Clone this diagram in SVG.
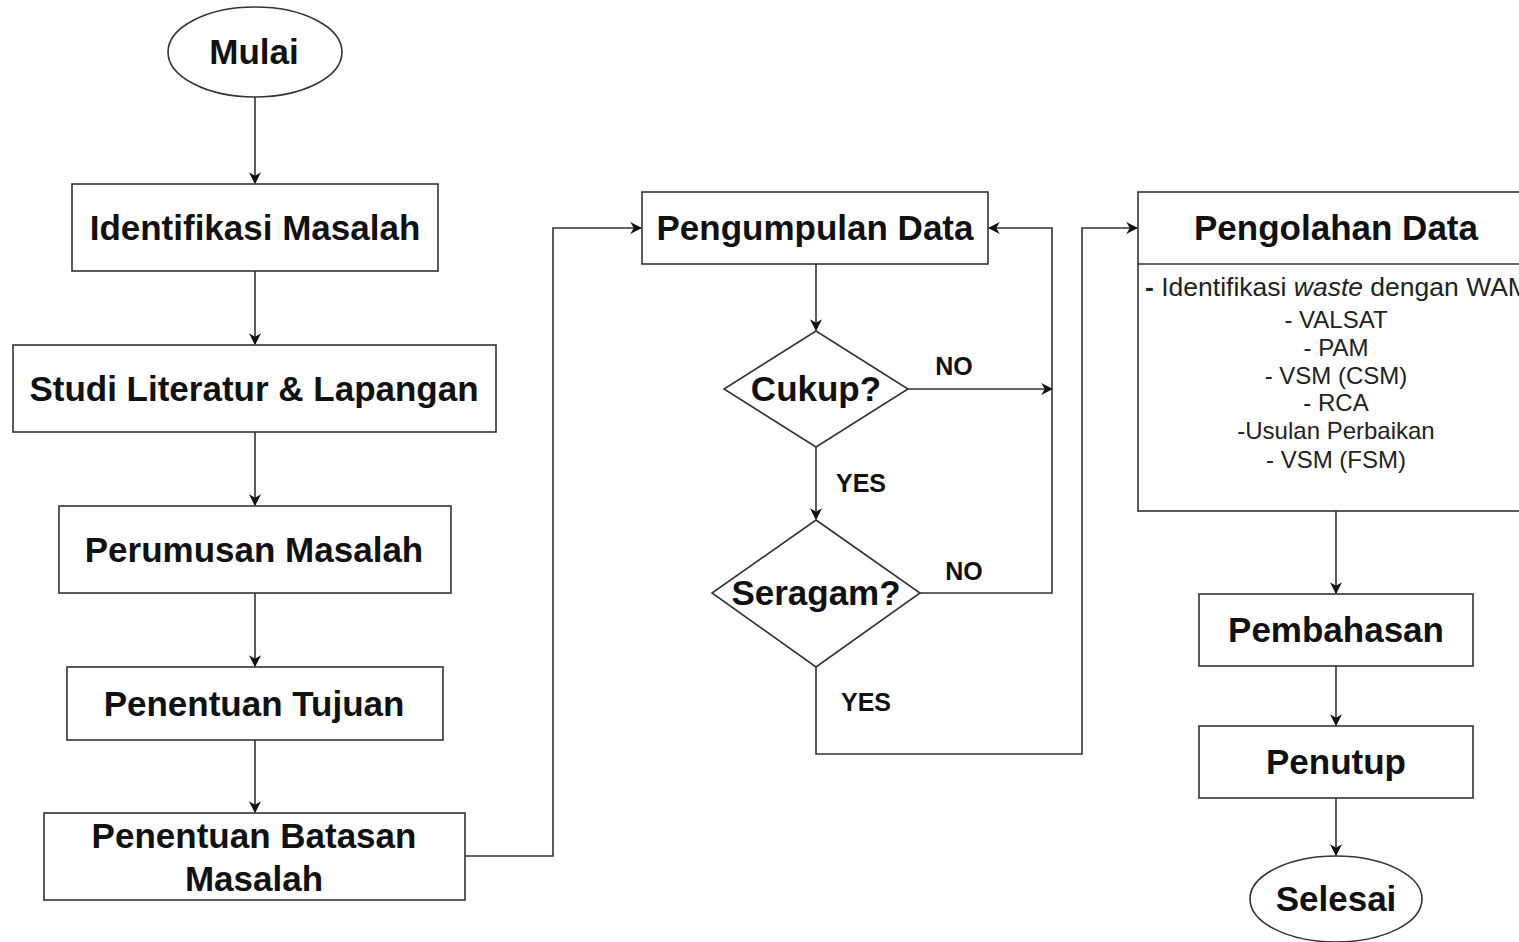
<svg xmlns="http://www.w3.org/2000/svg" width="1519" height="942" viewBox="0 0 1519 942">
  <style>
    .shape { fill: #ffffff; stroke: #333333; stroke-width: 1.6; }
    .edge { fill: none; stroke: #333333; stroke-width: 1.6; }
    .title { font-family: "Liberation Sans", Arial, sans-serif; font-weight: bold; font-size: 35px; fill: #111111; text-anchor: middle; }
    .tag { font-family: "Liberation Sans", Arial, sans-serif; font-weight: bold; font-size: 25px; fill: #111111; text-anchor: middle; }
    .body { font-family: "Liberation Sans", Arial, sans-serif; font-size: 24px; fill: #222222; text-anchor: middle; }
    .lead { font-family: "Liberation Sans", Arial, sans-serif; font-size: 26.5px; fill: #222222; }
  </style>
  <defs>
    <marker id="arrow" viewBox="0 0 10 10" refX="9" refY="5" markerWidth="12" markerHeight="12" markerUnits="userSpaceOnUse" orient="auto">
      <path d="M0,0 L10,5 L0,10 L3,5 Z" fill="#111111"/>
    </marker>
  </defs>
  <rect width="1519" height="942" fill="#ffffff"/>

  <g id="connectors">
    <path class="edge" d="M255,97 V183" marker-end="url(#arrow)"/>
    <path class="edge" d="M255,271 V344" marker-end="url(#arrow)"/>
    <path class="edge" d="M255,432 V505" marker-end="url(#arrow)"/>
    <path class="edge" d="M255,593 V666" marker-end="url(#arrow)"/>
    <path class="edge" d="M255,740 V812" marker-end="url(#arrow)"/>
    <path class="edge" d="M465,856 H553 V228 H641" marker-end="url(#arrow)"/>
    <path class="edge" d="M816,264 V330" marker-end="url(#arrow)"/>
    <path class="edge" d="M816,447 V519" marker-end="url(#arrow)"/>
    <path class="edge" d="M908,389 H1052" marker-end="url(#arrow)"/>
    <path class="edge" d="M920,593 H1052 V228 H989" marker-end="url(#arrow)"/>
    <path class="edge" d="M816,667 V754 H1082 V228 H1137" marker-end="url(#arrow)"/>
    <path class="edge" d="M1336,511 V593" marker-end="url(#arrow)"/>
    <path class="edge" d="M1336,666 V725" marker-end="url(#arrow)"/>
    <path class="edge" d="M1336,798 V855" marker-end="url(#arrow)"/>
    <text class="tag" x="954" y="375">NO</text>
    <text class="tag" x="861" y="492">YES</text>
    <text class="tag" x="964" y="580">NO</text>
    <text class="tag" x="866" y="711">YES</text>
  </g>

  <g id="mulai">
    <ellipse class="shape" cx="255" cy="52" rx="87" ry="45"/>
    <text class="title" x="254" y="64">Mulai</text>
  </g>
  <g id="identifikasi-masalah">
    <rect class="shape" x="72" y="184" width="366" height="87"/>
    <text class="title" x="255" y="240">Identifikasi Masalah</text>
  </g>
  <g id="studi-literatur">
    <rect class="shape" x="13" y="345" width="483" height="87"/>
    <text class="title" x="254" y="401">Studi Literatur &amp; Lapangan</text>
  </g>
  <g id="perumusan-masalah">
    <rect class="shape" x="59" y="506" width="392" height="87"/>
    <text class="title" x="254" y="562">Perumusan Masalah</text>
  </g>
  <g id="penentuan-tujuan">
    <rect class="shape" x="67" y="667" width="376" height="73"/>
    <text class="title" x="254" y="716">Penentuan Tujuan</text>
  </g>
  <g id="penentuan-batasan">
    <rect class="shape" x="44" y="813" width="421" height="87"/>
    <text class="title" x="254" y="848">Penentuan Batasan</text>
    <text class="title" x="254" y="891">Masalah</text>
  </g>
  <g id="pengumpulan-data">
    <rect class="shape" x="642" y="192" width="346" height="72"/>
    <text class="title" x="815" y="240">Pengumpulan Data</text>
  </g>
  <g id="cukup">
    <path class="shape" d="M816,331 L908,389 L816,447 L724,389 Z"/>
    <text class="title" x="816" y="401">Cukup?</text>
  </g>
  <g id="seragam">
    <path class="shape" d="M816,520 L920,593 L816,667 L712,593 Z"/>
    <text class="title" x="816" y="605">Seragam?</text>
  </g>
  <g id="pengolahan-data">
    <rect class="shape" x="1138" y="192" width="396" height="319"/>
    <line class="shape" x1="1138" y1="264" x2="1534" y2="264"/>
    <text class="title" x="1336" y="240">Pengolahan Data</text>
    <text class="lead" x="1145" y="296"><tspan font-weight="bold">-</tspan> Identifikasi <tspan font-style="italic">waste</tspan> dengan WAM</text>
    <text class="body" x="1336" y="328">- VALSAT</text>
    <text class="body" x="1336" y="356">- PAM</text>
    <text class="body" x="1336" y="384">- VSM (CSM)</text>
    <text class="body" x="1336" y="411">- RCA</text>
    <text class="body" x="1336" y="439">-Usulan Perbaikan</text>
    <text class="body" x="1336" y="468">- VSM (FSM)</text>
  </g>
  <g id="pembahasan">
    <rect class="shape" x="1199" y="594" width="274" height="72"/>
    <text class="title" x="1336" y="642">Pembahasan</text>
  </g>
  <g id="penutup">
    <rect class="shape" x="1199" y="726" width="274" height="72"/>
    <text class="title" x="1336" y="774">Penutup</text>
  </g>
  <g id="selesai">
    <ellipse class="shape" cx="1336" cy="899" rx="86" ry="43"/>
    <text class="title" x="1336" y="911">Selesai</text>
  </g>
</svg>
